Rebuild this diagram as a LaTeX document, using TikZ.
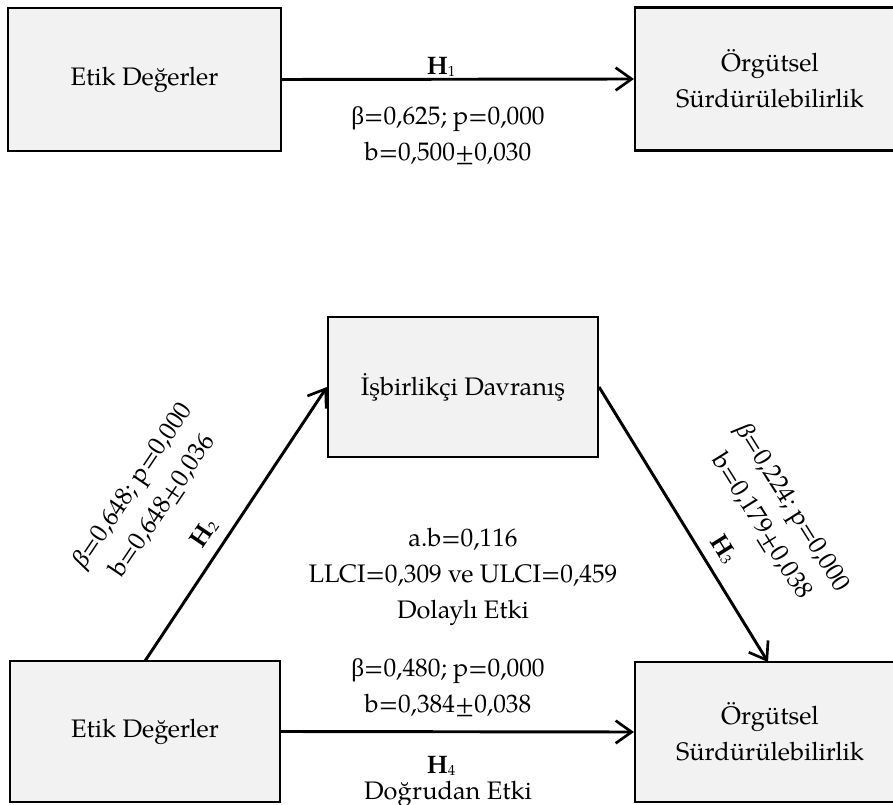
\documentclass[tikz,border=0pt]{standalone}
\usepackage{fontspec}
\setmainfont{texgyrepagella}[Extension=.otf, UprightFont=*-regular, BoldFont=*-bold, ItalicFont=*-italic]
\newfontfamily\grk{Liberation Serif}
\usetikzlibrary{arrows.meta}
\newcommand{\hyp}[1]{\textbf{H}{\fontsize{11}{11}\selectfont\raisebox{-1pt}{#1}}}
\newcommand{\bet}{{\grk β}}
\newcommand{\ibet}{{\grk\itshape β}}
\begin{document}
\begin{tikzpicture}[x=0.75pt,y=-0.75pt,
  every node/.style={font=\fontsize{19}{27}\selectfont},
  varbox/.style={draw=black, line width=1.6pt, fill=gray!10, align=center, inner sep=0pt},
  path/.style={line width=2.2pt, -{Straight Barb[length=12pt,width=17pt,line width=2pt]}},
  lbl/.style={align=center, inner sep=0pt}]
\useasboundingbox (0,0) rectangle (893,805);
\fill[white] (0,0) rectangle (893,805);

% direct model
\node[varbox, minimum width=273*0.75pt, minimum height=143*0.75pt] (e1) at (144.5,79.5) {Etik Değerler};
\node[varbox, minimum width=270*0.75pt, minimum height=143*0.75pt] (o1) at (770,79) {Örgütsel\\Sürdürülebilirlik};
\draw[path] (e1.east) -- (o1.west);
\node[lbl] (h1) at (441,67) {\hyp{1}};
\node[lbl] (s1) at (448,136) {\bet=0,625; p=0,000\\b=0,500±0,030};

% mediation model
\node[varbox, minimum width=270*0.75pt, minimum height=140*0.75pt] (m) at (463,387) {İşbirlikçi Davranış};
\node[varbox, minimum width=270*0.75pt, minimum height=141*0.75pt] (e2) at (145,731.5) {Etik Değerler};
\node[varbox, minimum width=270*0.75pt, minimum height=140*0.75pt] (o2) at (770,732) {Örgütsel\\Sürdürülebilirlik};

\coordinate (a2) at (145,661);
\coordinate (b3) at (768,662);
\draw[path] (a2) -- (m.west);
\draw[path] (m.east) -- (b3);
\draw[path] (e2.east) -- (o2.west);

% path coefficients along the slanted arrows
\node[lbl, rotate=56] (s2) at (148,496) {\ibet=0,648; p=0,000\\b=0,648±0,036};
\node[lbl, rotate=56] (h2) at (204,533) {\hyp{2}};
\node[lbl, rotate=-58] (s3) at (777,517) {\ibet=0,224; p=0,000\\b=0,179±0,038};
\node[lbl, rotate=-58] (h3) at (724,549) {\hyp{3}};

% indirect and direct effect labels
\node[lbl] (ind) at (463,577) {a.b=0,116\\LLCI=0,309 ve ULCI=0,459\\Dolaylı Etki};
\node[lbl] (s4) at (448,688) {\bet=0,480; p=0,000\\b=0,384±0,038};
\node[lbl] (h4) at (441,766) {\hyp{4}};
\node[lbl, anchor=base] (dir) at (448,799) {Doğrudan Etki};
\end{tikzpicture}
\end{document}
